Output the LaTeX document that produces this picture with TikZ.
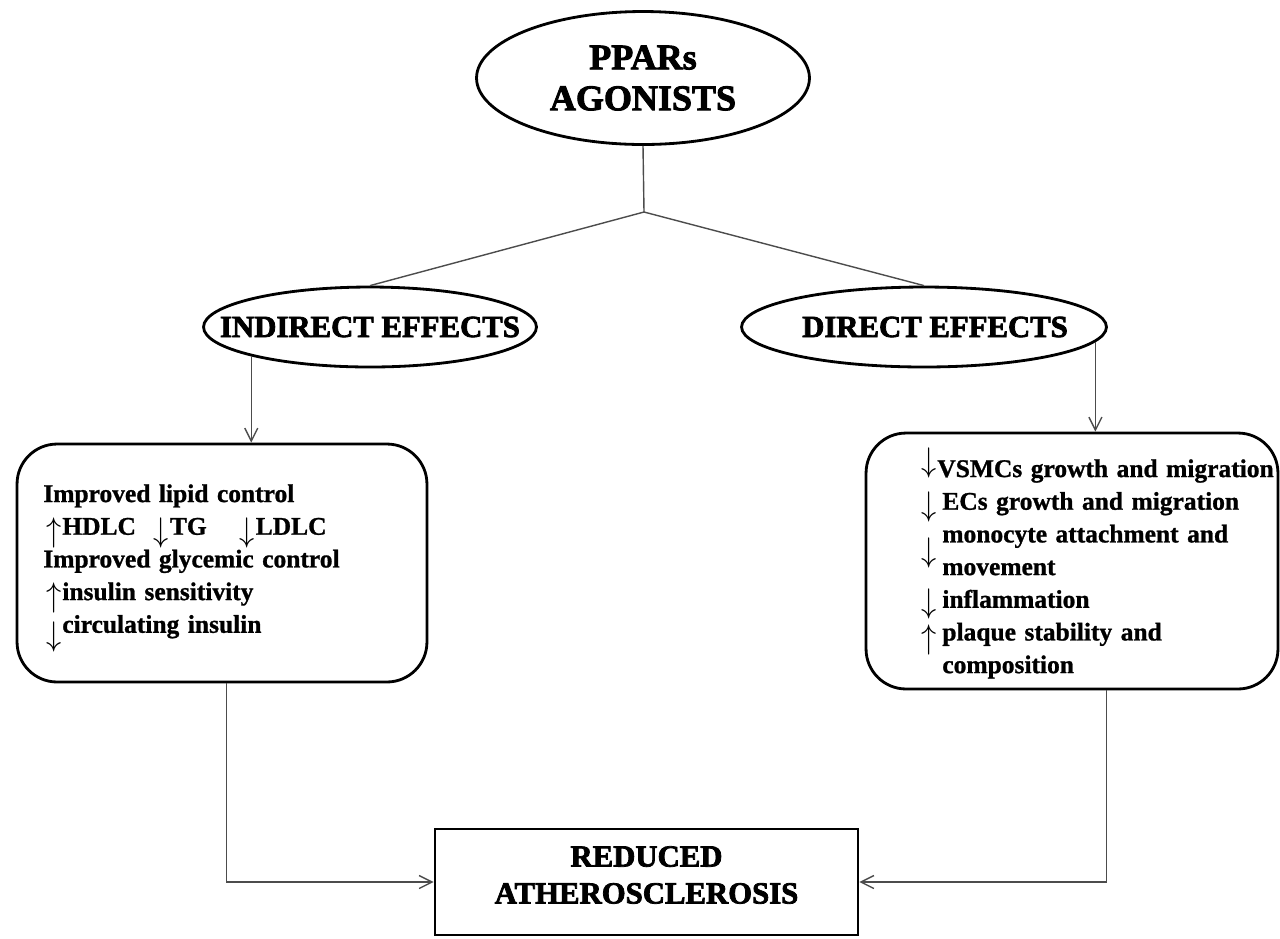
\documentclass[tikz,border=0pt]{standalone}
\usepackage{fontspec}
\setmainfont{Liberation Serif}[BoldFeatures={FakeBold=1}]
\newfontfamily\headfont{Liberation Serif}[BoldFeatures={FakeBold=2.5}]
\usepackage{graphicx}
\usetikzlibrary{shapes.geometric,arrows.meta}

\newcommand\arw[2]{\makebox[0.38cm][l]{\hspace{0.06cm}\raisebox{#1}[0pt][0pt]{\scalebox{1.2}[1.35]{$#2$}}}}

\begin{document}
\begin{tikzpicture}[x=0.02cm,y=-0.02cm,
  bubble/.style={ellipse, draw, line width=1.6pt, inner sep=0pt},
  panel/.style={draw, line width=1.6pt, rounded corners=0.8cm, inner sep=0pt},
  headtxt/.style={font=\fontsize{17.5pt}{21pt}\selectfont\headfont\bfseries, align=center, inner sep=0pt},
  listtxt/.style={font=\fontsize{14.5pt}{18.6pt}\selectfont\bfseries, align=left, inner sep=0pt, anchor=north west},
  link/.style={line width=0.8pt, black!70},
  arrowlink/.style={-{Straight Barb[length=0.26cm,width=0.26cm]}}]

\useasboundingbox (0,0) rectangle (1280,938);

\node[bubble, minimum width=6.66cm, minimum height=2.66cm,
  label={[headtxt, font=\fontsize{20.5pt}{23.3pt}\selectfont\headfont\bfseries]center:PPARs\\AGONISTS}] (ppar) at (643,78) {};
\node[bubble, minimum width=6.66cm, minimum height=1.6cm, label={[headtxt]center:INDIRECT EFFECTS}] (ind) at (370,327) {};
\node[bubble, minimum width=7.3cm, minimum height=1.6cm, label={[headtxt, xshift=0.22cm]center:DIRECT EFFECTS}] (dir) at (924,327) {};

\node[panel, minimum width=8.2cm, minimum height=4.76cm] (lbox) at (222,563) {};
\node[panel, minimum width=8.24cm, minimum height=5.12cm] (rbox) at (1072,561) {};
\node[draw, line width=1.6pt, minimum width=8.46cm, minimum height=2.12cm,
  label={[headtxt, yshift=0.14cm]center:REDUCED\\ATHEROSCLEROSIS}] (result) at (646.5,882) {};

\node[listtxt, text width=7.5cm] (lipid) at (43,484) {Improved lipid control\\
\arw{-4pt}{\uparrow}HDLC\hspace{0.3cm}\arw{-4pt}{\downarrow}TG\hspace{0.6cm}\arw{-4pt}{\downarrow}LDLC\\
Improved glycemic control\\
\arw{-3.4pt}{\uparrow}insulin sensitivity\\
\arw{-7.4pt}{\downarrow}circulating insulin};

\node[listtxt, text width=8.2cm] (vessel) at (918,459) {\arw{3.4pt}{\downarrow}VSMCs growth and migration\\
\arw{-3.4pt}{\downarrow}\hspace{0.1cm}ECs growth and migration\\
\arw{-10.8pt}{\downarrow}\hspace{0.1cm}monocyte attachment and\\
\hspace*{0.48cm}movement\\
\arw{-2.9pt}{\downarrow}\hspace{0.1cm}inflammation\\
\arw{-4.6pt}{\uparrow}\hspace{0.1cm}plaque stability and\\
\hspace*{0.48cm}composition};

\coordinate (fork) at (644,212);
\draw[link] (ppar.south) -- (fork) -- (ind.north);
\draw[link] (fork) -- (dir.north);
\draw[link, arrowlink] (ind.south west) -- (ind.south west |- lbox.north);
\draw[link, arrowlink] (dir.-5) -- (dir.-5 |- rbox.north);
\draw[link, arrowlink] (lbox.-88) |- (result.west);
\draw[link, arrowlink] (rbox.-75) |- (result.east);
\end{tikzpicture}
\end{document}
